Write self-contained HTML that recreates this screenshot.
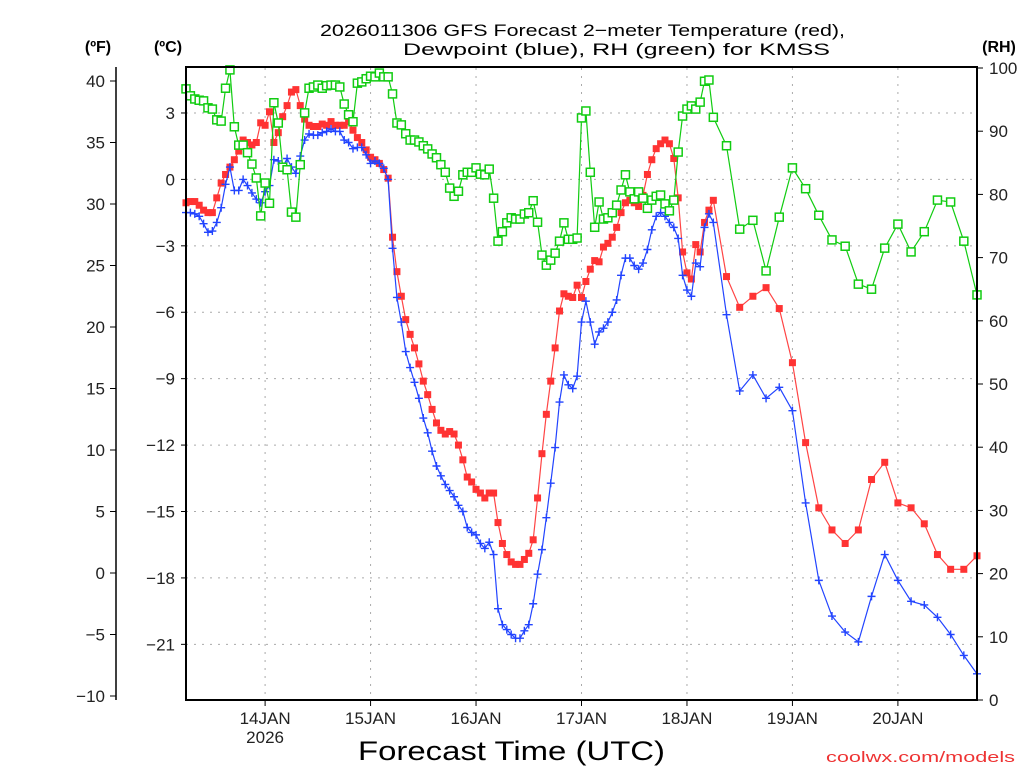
<!DOCTYPE html>
<html><head><meta charset="utf-8"><title>GFS Forecast KMSS</title>
<style>
html,body{margin:0;padding:0;background:#fff;}
svg{display:block;font-family:"Liberation Sans",sans-serif;}
</style></head>
<body>
<svg id="chart" width="1024" height="768" viewBox="0 0 1024 768" xmlns="http://www.w3.org/2000/svg">
<rect x="0" y="0" width="1024" height="768" fill="#fff"/>
<g font-size="17" fill="#000">
<text x="320" y="36" textLength="525" lengthAdjust="spacingAndGlyphs">2026011306 GFS Forecast 2−meter Temperature (red),</text>
<text x="403" y="55" textLength="427" lengthAdjust="spacingAndGlyphs">Dewpoint (blue), RH (green) for KMSS</text>
</g>
<text x="98" y="52" font-size="16" font-weight="bold" text-anchor="middle">(ºF)</text>
<text x="168" y="52" font-size="16" font-weight="bold" text-anchor="middle">(ºC)</text>
<text x="999" y="52" font-size="16" font-weight="bold" text-anchor="middle">(RH)</text>
<g id="grid"></g>
<g id="axes"></g>
<g id="series"></g>
<rect x="186" y="67" width="791" height="633" fill="none" stroke="#000" stroke-width="2"/>
<text x="358" y="760" font-size="27" textLength="307" lengthAdjust="spacingAndGlyphs">Forecast Time (UTC)</text>
<text x="826" y="762" font-size="15" fill="#e33" textLength="189" lengthAdjust="spacingAndGlyphs">coolwx.com/models</text>
</svg>
<script>
// ---- data ----
const dayLabels = ["14JAN","15JAN","16JAN","17JAN","18JAN","19JAN","20JAN"];
const dayHours = [18,42,66,90,114,138,162];
const fTicks = [-10,-5,0,5,10,15,20,25,30,35,40];
const cTicks = [3,0,-3,-6,-9,-12,-15,-18,-21];
const rhTicks = [0,10,20,30,40,50,60,70,80,90,100];
const tempF = [30.1,30.2,30.2,29.9,29.5,29.3,29.3,30.5,31.7,32.4,33.0,33.6,34.3,35.2,35.0,34.8,35.0,36.6,36.4,37.5,35.0,35.8,37.1,38.0,39.1,39.3,38.0,36.9,36.4,36.3,36.3,36.5,36.4,36.7,36.4,36.4,36.4,36.7,36.0,35.4,35.0,34.4,33.8,33.6,33.3,32.8,32.1,
27.3,24.5,22.5,20.6,19.4,18.3,17.0,15.6,14.5,13.3,12.2,11.6,11.3,11.5,11.3,10.4,9.2,7.8,7.4,6.8,6.5,6.1,6.5,6.5,4.1,2.4,1.5,0.9,0.7,0.7,1.1,1.6,2.7,6.1,9.7,12.9,15.6,18.3,21.3,22.7,22.5,22.4,23.4,22.4,23.7,24.7,
25.4,25.3,26.5,26.8,27.3,28.1,29.3,30.1,30.3,30.1,29.8,30.7,32.4,33.6,34.5,34.9,35.2,34.9,33.7,30.5,26.1,24.4,23.9,26.7,26.1,28.5,29.5,30.3,
24.1,21.6,22.5,23.2,21.5,17.1,10.6,5.3,3.5,2.4,3.5,7.6,9.0,5.7,5.3,4.0,1.5,0.3,0.3,1.4];
const dewF = [29.3,29.3,29.2,29.0,28.4,27.7,27.8,28.5,29.7,31.6,33.0,31.1,31.1,32.0,31.5,30.9,30.4,30.1,31.0,31.5,33.6,33.5,33.0,33.7,33.0,32.5,33.9,35.2,35.7,35.6,35.6,35.8,35.9,36.1,35.9,35.9,35.2,35.0,34.5,34.6,34.6,34.0,33.3,33.5,33.3,32.9,32.0,
26.4,22.4,20.4,18.0,16.7,15.5,14.2,12.6,11.4,9.9,8.7,7.9,7.2,6.7,6.2,5.5,5.0,3.7,3.3,3.1,2.4,2.0,2.5,1.5,-2.9,-4.2,-4.6,-5.0,-5.3,-5.3,-4.7,-4.2,-2.5,-0.1,1.9,4.5,7.3,10.2,13.9,16.1,15.3,15.0,16.0,20.4,22.1,20.4,
18.6,19.6,19.9,20.4,21.2,22.2,24.2,25.6,25.6,25.0,24.7,25.2,26.3,27.9,29.0,29.3,29.0,28.5,28.1,27.2,24.2,23.0,22.5,25.2,24.9,28.1,29.2,28.5,
21.0,14.8,16.1,14.2,15.1,13.2,5.7,-0.6,-3.5,-4.8,-5.6,-1.9,1.5,-0.6,-2.3,-2.6,-3.6,-5.0,-6.7,-8.2];
const rhPct = [96.7,95.6,95.1,94.9,94.8,93.7,93.5,91.8,91.6,96.8,99.7,90.7,87.8,87.8,86.6,84.8,82.6,76.6,81.8,78.6,94.5,91.3,84.3,83.9,77.2,76.4,84.7,92.9,96.8,97.0,97.3,96.8,97.2,97.3,97.3,97.0,94.3,92.6,91.5,97.6,97.8,98.3,98.7,98.6,99.2,98.6,98.6,
95.9,91.3,91.0,89.6,88.6,88.6,88.3,87.7,87.2,86.4,85.8,84.7,83.5,81.0,79.7,80.5,83.1,83.5,83.5,84.2,83.2,83.1,84.0,79.4,72.6,74.1,75.5,76.3,76.1,76.1,76.9,77.1,79.0,75.6,70.4,68.8,69.6,70.7,72.6,75.5,72.9,72.9,73.1,92.1,93.2,83.5,
74.8,78.8,76.1,76.3,77.1,78.3,80.7,83.1,80.4,79.3,80.4,79.4,77.8,79.1,79.7,79.9,78.5,77.4,79.1,86.7,92.4,93.5,94.0,93.5,94.6,97.9,98.1,92.2,
87.7,74.5,75.9,67.9,76.4,84.2,80.9,76.7,72.8,71.8,65.8,65.0,71.5,75.3,70.9,74.1,79.1,78.8,72.6,64.1];

// ---- scales ----
const X0=186, X1=977, HMAX=180;
function xH(h){return X0+(X1-X0)*h/HMAX;}
function yF(f){return 81+(40-f)*12.3;}
function yC(c){return yF(c*1.8+32);}
function yR(r){return 700-6.32*r;}
function hourAt(i){return i<=120?i:120+3*(i-120);}

const NS="http://www.w3.org/2000/svg";
function mk(tag,attrs,parent){const e=document.createElementNS(NS,tag);for(const k in attrs)e.setAttribute(k,attrs[k]);parent.appendChild(e);return e;}
const grid=document.getElementById('grid'), axes=document.getElementById('axes'), series=document.getElementById('series');

cTicks.forEach(c=>{
  const y=yC(c);
  const l=mk('line',{x1:X0,x2:X1,y1:y,y2:y,stroke:'#aaa','stroke-width':1,'stroke-dasharray':'2,6'},grid);
  
  
  const t=mk('line',{x1:X0-5,x2:X0,y1:y,y2:y,stroke:'#000','stroke-width':1},axes);
  
  
  const tx=mk('text',{x:175,y:y+6,'font-size':17,'text-anchor':'end',fill:'#222'},axes);
  tx.textContent=(c<0?'−'+(-c):String(c));
  
  
});
dayHours.forEach((h,i)=>{
  const x=xH(h);
  const l=mk('line',{x1:x,x2:x,y1:68,y2:700,stroke:'#aaa','stroke-width':1,'stroke-dasharray':'2,6'},grid);
  
  
  const t=mk('line',{x1:x,x2:x,y1:700,y2:706,stroke:'#000','stroke-width':1},axes);
  
  
  const tx=mk('text',{x:x,y:724,'font-size':17,'text-anchor':'middle',fill:'#222'},axes);
  tx.textContent=dayLabels[i];
  
  
});
const yr=mk('text',{x:xH(dayHours[0]),y:743,'font-size':17,'text-anchor':'middle',fill:'#222'},axes);
yr.textContent='2026';



const fa=mk('line',{x1:116,x2:116,y1:67,y2:700,stroke:'#000','stroke-width':1.5},axes);


fTicks.forEach(f=>{
  const y=yF(f);
  const t=mk('line',{x1:110,x2:116,y1:y,y2:y,stroke:'#000','stroke-width':1},axes);
  
  
  const tx=mk('text',{x:105,y:y+6,'font-size':17,'text-anchor':'end',fill:'#222'},axes);
  tx.textContent=(f<0?'−'+(-f):String(f));
  
  
});
rhTicks.forEach(r=>{
  const y=yR(r);
  const t=mk('line',{x1:X1,x2:X1+6,y1:y,y2:y,stroke:'#000','stroke-width':1},axes);
  
  
  const tx=mk('text',{x:989,y:y+6,'font-size':17,'text-anchor':'start',fill:'#222'},axes);
  tx.textContent=String(r);
  
  
});

function drawLine(vals,yf,color,name){
  const pts=vals.map((v,i)=>xH(hourAt(i)).toFixed(1)+','+yf(v).toFixed(1)).join(' ');
  const p=mk('polyline',{points:pts,fill:'none',stroke:color,'stroke-width':1.2},series);
  
  
}
drawLine(tempF,yF,'#f44','temperature-line');
tempF.forEach((v,i)=>{
  const x=xH(hourAt(i)), y=yF(v);
  const m=mk('rect',{x:x-3.5,y:y-3.5,width:7,height:7,fill:'#f33'},series);
  
  
});
drawLine(dewF,yF,'#2244ff','dewpoint-line');
dewF.forEach((v,i)=>{
  const x=xH(hourAt(i)), y=yF(v);
  const m=mk('path',{d:`M${x-4},${y}H${x+4}M${x},${y-4}V${y+4}`,stroke:'#2244ff','stroke-width':1.4,fill:'none'},series);
  
  
});
drawLine(rhPct,yR,'#11cc11','rh-line');
rhPct.forEach((v,i)=>{
  const x=xH(hourAt(i)), y=yR(v);
  const m=mk('rect',{x:x-4,y:y-4,width:8,height:8,fill:'#fff',stroke:'#11cc11','stroke-width':1.5},series);
  
  
});
</script>
</body></html>
